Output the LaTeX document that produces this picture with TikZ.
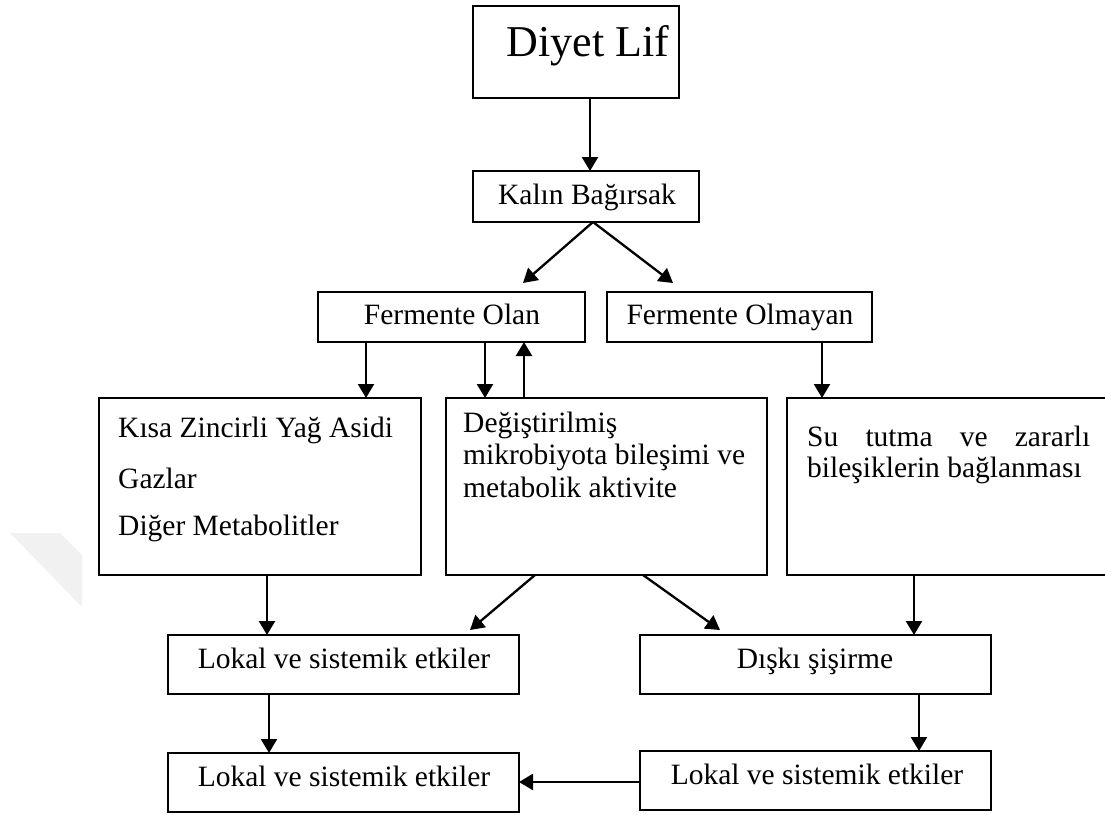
\documentclass[tikz,border=0pt]{standalone}
\usepackage{fontspec}
\setmainfont{Liberation Serif}
\usetikzlibrary{arrows.meta}
\begin{document}
\begin{tikzpicture}[x=1pt,y=-1pt,
  box/.style={draw=black, line width=2.6pt, anchor=north west, inner sep=0pt, outer sep=0pt},
  arr/.style={line width=2.3pt, -{Triangle[length=14pt,width=16pt]}},
  txt/.style={inner sep=0pt, font=\fontsize{29.5}{31}\selectfont},
  ]
\useasboundingbox (0,0) rectangle (1105,814);
% faint grey mark on the left margin
\fill[gray!11] (10,533) -- (60,533) -- (82,555) -- (82,607) -- cycle;

% boxes
\node[box, minimum width=206pt, minimum height=92pt] (diyet) at (473,6) {};
\node[box, minimum width=226pt, minimum height=51pt] (kalin) at (473,171) {};
\node[box, minimum width=267pt, minimum height=50pt] (folan) at (318,292) {};
\node[box, minimum width=265pt, minimum height=50pt] (folmayan) at (607,292) {};
\node[box, minimum width=322pt, minimum height=177pt] (kisa) at (99,398) {};
\node[box, minimum width=321pt, minimum height=177pt] (degis) at (446,398) {};
\node[box, minimum width=321pt, minimum height=177pt] (sutut) at (787,398) {};
\node[box, minimum width=351pt, minimum height=59pt] (lokal1) at (168,635) {};
\node[box, minimum width=351pt, minimum height=59pt] (diski) at (640,635) {};
\node[box, minimum width=351pt, minimum height=59pt] (lokal2) at (168,753) {};
\node[box, minimum width=351pt, minimum height=59pt] (lokal3) at (640,751) {};

% texts
\node[txt, anchor=base, font=\fontsize{44}{46}\selectfont] (tdiyet) at (588,56) {Diyet Lif};
\node[txt, anchor=base] (tkalin) at (587,204) {Kalın Bağırsak};
\node[txt, anchor=base] (tfolan) at (452,324) {Fermente Olan};
\node[txt, anchor=base] (tfolmayan) at (740,324) {Fermente Olmayan};
\node[txt, anchor=base west] (tkisa1) at (118,437) {Kısa Zincirli Yağ Asidi};
\node[txt, anchor=base west] (tkisa2) at (118,488) {Gazlar};
\node[txt, anchor=base west] (tkisa3) at (118,535) {Diğer Metabolitler};
\node[txt, anchor=base west] (tdeg1) at (463,432) {Değiştirilmiş};
\node[txt, anchor=base west] (tdeg2) at (463,464) {mikrobiyota bileşimi ve};
\node[txt, anchor=base west] (tdeg3) at (463,497) {metabolik aktivite};
\node[txt, anchor=base west] (tsu1) at (807,446) {\hbox to 283pt{Su\hfill tutma\hfill ve\hfill zararlı}};
\node[txt, anchor=base west] (tsu2) at (807,477) {bileşiklerin bağlanması};
\node[txt, anchor=base] (tlok1) at (344,668) {Lokal ve sistemik etkiler};
\node[txt, anchor=base] (tdis) at (815,668) {Dışkı şişirme};
\node[txt, anchor=base] (tlok2) at (344,786) {Lokal ve sistemik etkiler};
\node[txt, anchor=base] (tlok3) at (817,784) {Lokal ve sistemik etkiler};

% free arrow ends
\coordinate (endfa) at (523,283);
\coordinate (endfb) at (673,283);
\coordinate (endla) at (470,630);
\coordinate (endlb) at (720,630);

% connectors
\draw[arr] (diyet.south -| 590,0) -- (kalin.north -| 590,0);
\draw[arr] (kalin.south -| 593,0) -- (endfa);
\draw[arr] (kalin.south -| 593,0) -- (endfb);
\draw[arr] (folan.south -| 366,0) -- (kisa.north -| 366,0);
\draw[arr] (folan.south -| 485,0) -- (degis.north -| 485,0);
\draw[arr] (degis.north -| 524,0) -- (folan.south -| 524,0);
\draw[arr] (folmayan.south -| 822,0) -- (sutut.north -| 822,0);
\draw[arr] (kisa.south -| 267,0) -- (lokal1.north -| 267,0);
\draw[arr] (degis.south -| 535,0) -- (endla);
\draw[arr] (degis.south -| 643,0) -- (endlb);
\draw[arr] (sutut.south -| 914,0) -- (diski.north -| 914,0);
\draw[arr] (lokal1.south -| 269,0) -- (lokal2.north -| 269,0);
\draw[arr] (diski.south -| 919,0) -- (lokal3.north -| 919,0);
\draw[arr] (lokal3.west |- 0,782) -- (lokal2.east |- 0,782);
\end{tikzpicture}
\end{document}
